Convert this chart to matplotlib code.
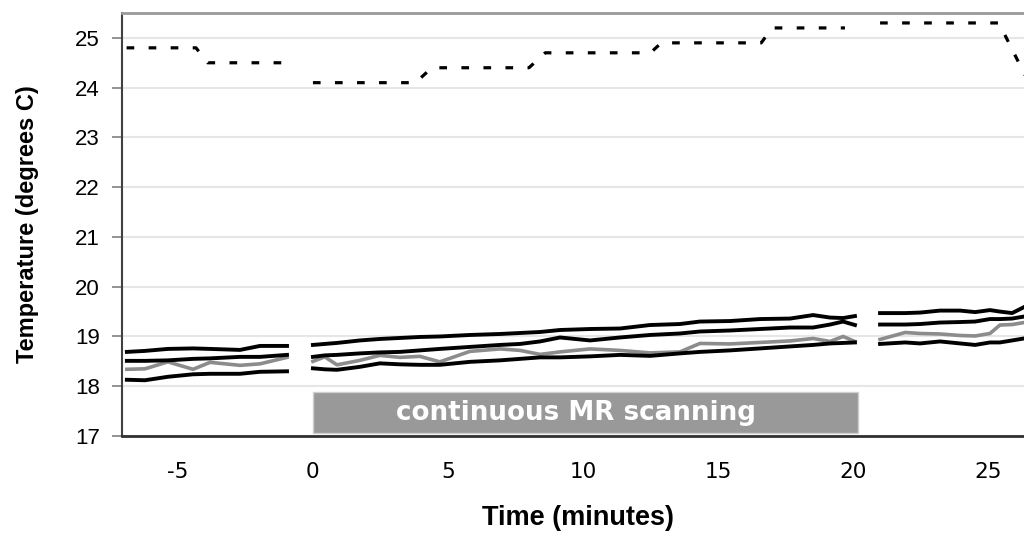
import numpy as np
import matplotlib
matplotlib.use("Agg")
import matplotlib.pyplot as plt
from matplotlib.patches import Rectangle

# time (minutes) for the three recording segments
t_pre = [-6.89, -6.22, -5.37, -4.44, -3.81, -2.70, -1.96, -0.96]
t_scan = [0.0, 0.44, 0.89, 1.74, 2.48, 3.22, 3.96, 4.70, 5.81, 6.93, 7.67, 8.41,
          9.15, 10.26, 11.37, 12.48, 13.59, 14.33, 15.44, 16.56, 17.67, 18.52,
          19.15, 19.63, 20.07]
t_post = [21.0, 21.93, 22.48, 23.22, 23.96, 24.52, 25.07, 25.44, 25.89, 26.33]

# probe temperatures (degrees C)
top_pre = [18.69, 18.71, 18.75, 18.76, 18.75, 18.73, 18.81, 18.81]
top_scan = [18.83, 18.85, 18.87, 18.92, 18.95, 18.97, 18.99, 19.00, 19.03, 19.05,
            19.07, 19.09, 19.13, 19.15, 19.16, 19.23, 19.25, 19.30, 19.31, 19.35,
            19.36, 19.43, 19.38, 19.37, 19.41]
top_post = [19.47, 19.47, 19.48, 19.52, 19.52, 19.49, 19.53, 19.50, 19.47, 19.59]

mid_pre = [18.51, 18.51, 18.52, 18.55, 18.56, 18.59, 18.59, 18.63]
mid_scan = [18.59, 18.62, 18.63, 18.66, 18.68, 18.69, 18.72, 18.75, 18.79, 18.83,
            18.85, 18.90, 18.98, 18.92, 18.98, 19.03, 19.06, 19.10, 19.12, 19.15,
            19.18, 19.18, 19.24, 19.30, 19.23]
mid_post = [19.24, 19.24, 19.25, 19.28, 19.29, 19.30, 19.35, 19.35, 19.36, 19.40]

gray_pre = [18.34, 18.35, 18.49, 18.34, 18.48, 18.42, 18.45, 18.58]
gray_scan = [18.50, 18.59, 18.43, 18.52, 18.62, 18.58, 18.60, 18.49, 18.70, 18.75,
             18.72, 18.64, 18.69, 18.75, 18.72, 18.67, 18.69, 18.86, 18.85, 18.88,
             18.91, 18.96, 18.90, 19.00, 18.90]
gray_post = [18.94, 19.08, 19.06, 19.05, 19.02, 19.01, 19.06, 19.23, 19.24, 19.28]

low_pre = [18.13, 18.12, 18.19, 18.24, 18.25, 18.25, 18.29, 18.30]
low_scan = [18.36, 18.34, 18.33, 18.39, 18.46, 18.44, 18.43, 18.43, 18.49, 18.52,
            18.55, 18.58, 18.58, 18.60, 18.63, 18.61, 18.66, 18.69, 18.72, 18.76,
            18.80, 18.83, 18.86, 18.87, 18.88]
low_post = [18.85, 18.88, 18.86, 18.90, 18.86, 18.83, 18.88, 18.88, 18.92, 18.96]

# room temperature (dashed)
t_room = [-6.9, -4.33, -3.9, -0.96, np.nan, 0.0, 3.8, 4.4, 8.0, 8.6, 12.5, 12.9,
          16.6, 17.0, 19.7, np.nan, 21.0, 25.4, 26.6]
room = [24.8, 24.8, 24.5, 24.5, np.nan, 24.1, 24.1, 24.4, 24.4, 24.7, 24.7, 24.9,
        24.9, 25.2, 25.2, np.nan, 25.3, 25.3, 24.0]

scan_start, scan_end = 0.0, 20.2


def join(a, b, c):
    return list(a) + [np.nan] + list(b) + [np.nan] + list(c)


t_all = join(t_pre, t_scan, t_post)

fig = plt.figure(figsize=(10.24, 5.34), dpi=100)
ax = fig.add_axes([122 / 1024, 1 - 436 / 534, 902 / 1024, 423 / 534])

ax.plot(t_all, join(gray_pre, gray_scan, gray_post), color="#8c8c8c", lw=2.6,
        solid_joinstyle="round")
for lo in [(low_pre, low_scan, low_post), (mid_pre, mid_scan, mid_post),
           (top_pre, top_scan, top_post)]:
    ax.plot(t_all, join(*lo), color="black", lw=2.8, solid_joinstyle="round")

ax.plot(t_room, room, color="black", lw=2.3, linestyle=(0, (2.4, 4.5)))

ax.add_patch(Rectangle((scan_start, 17.06), scan_end - scan_start, 0.82,
                       facecolor="#999999", edgecolor="#cfcfcf", lw=1))
# label sits a little left of the bar centre in the original
ax.text(9.75, 17.46, "continuous MR scanning",
        color="white", fontsize=18.8, fontweight="bold", ha="center", va="center",
        family="DejaVu Sans")

ax.set_xlim(-7.07, 26.33)
ax.set_ylim(17, 25.5)
ax.set_yticks(range(17, 26))
ax.set_xticks([-5, 0, 5, 10, 15, 20, 25])
ax.set_xticklabels(["-5", "0", "5", "10", "15", "20", "25"])
ax.yaxis.grid(True, color="#e6e6e6", lw=1.5)
ax.set_axisbelow(True)

ax.tick_params(axis="x", length=0, pad=19, labelsize=15.5)
ax.tick_params(axis="y", length=7, width=1.2, color="#808080", pad=9,
               labelsize=16)
for lab in ax.get_yticklabels():
    lab.set_family("Liberation Sans")
for lab in ax.get_xticklabels():
    lab.set_family("DejaVu Sans")

ax.spines["right"].set_visible(False)
ax.spines["top"].set_color("#999999")
ax.spines["top"].set_linewidth(2)
ax.spines["left"].set_color("#404040")
ax.spines["left"].set_linewidth(1.5)
ax.spines["bottom"].set_color("#303030")
ax.spines["bottom"].set_linewidth(2)

ax.set_xlabel("Time (minutes)", fontsize=19.5, fontweight="bold",
              family="Liberation Sans")
ax.set_ylabel("Temperature (degrees C)", fontsize=17, fontweight="bold",
              family="Liberation Sans")
ax.xaxis.set_label_coords(0.505, -0.164)
ax.yaxis.set_label_coords(-0.092, 0.5)

fig.savefig("out.png", dpi=100)
